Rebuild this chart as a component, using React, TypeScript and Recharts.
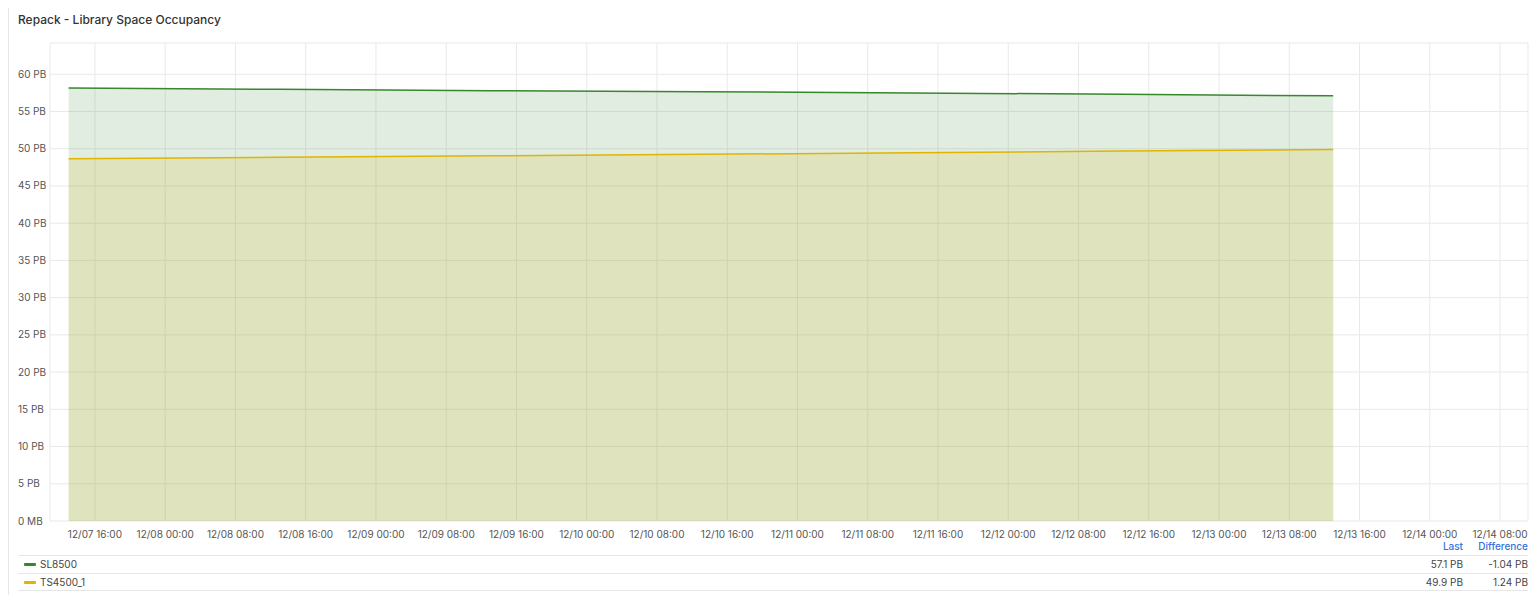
import React from "react";
import { AreaChart, Area, XAxis, YAxis, CartesianGrid } from "recharts";

const H = 3600 * 1000;
const startTs = Date.UTC(2023, 11, 7, 13, 0);
const categories = [0, 24, 48, 72, 96, 120, 144].map((h) => startTs + h * H);
const sl8500 = [58.14, 57.98, 57.8, 57.66, 57.5, 57.3, 57.1];
const ts4500 = [48.66, 48.85, 49.05, 49.25, 49.45, 49.68, 49.9];
const yTicks = [0, 5, 10, 15, 20, 25, 30, 35, 40, 45, 50, 55, 60];
const xTicks = Array.from({ length: 21 }, (_, i) => Date.UTC(2023, 11, 7, 16, 0) + i * 8 * H);
const xDomain = [Date.UTC(2023, 11, 7, 10, 53), Date.UTC(2023, 11, 14, 11, 11)];

const series = [
  { name: "SL8500", color: "#37872D", last: "57.1 PB", diff: "-1.04 PB" },
  { name: "TS4500_1", color: "#E0B400", last: "49.9 PB", diff: "1.24 PB" },
];

const data = categories.map((t, i) => ({ t, SL8500: sl8500[i], TS4500_1: ts4500[i] }));

const pad = (n: number) => (n < 10 ? "0" + n : "" + n);
const fmtX = (v: number) => {
  const d = new Date(v);
  return `${pad(d.getUTCMonth() + 1)}/${pad(d.getUTCDate())} ${pad(d.getUTCHours())}:${pad(d.getUTCMinutes())}`;
};

const FONT = "Inter, 'Noto Sans', sans-serif";

const YTick = (props: any) => {
  const { y, payload } = props;
  const v = payload.value;
  return (
    <text x={18} y={y} dy={3.5} textAnchor="start" fontSize={10} fill="#555" fontFamily={FONT}>
      {v === 0 ? "0 MB" : `${v} PB`}
    </text>
  );
};

export default function App() {
  return (
    <div style={{ position: "absolute", left: 0, top: 0, width: 1534, height: 595, background: "#fff", fontFamily: FONT }}>
      <div style={{ position: "absolute", left: 8, top: 8, width: 1, height: 587, background: "#e6e6e6" }} />
      <div style={{ position: "absolute", left: 18, top: 12, fontSize: 12, fontWeight: 500, color: "#333" }}>
        Repack - Library Space Occupancy
      </div>
      <div style={{ position: "absolute", left: 0, top: 0 }}>
        <AreaChart width={1534} height={541} data={data} margin={{ top: 43, right: 6, left: 0, bottom: 0 }}>
          <CartesianGrid stroke="#e9e9e9" />
          <XAxis
            dataKey="t"
            type="number"
            scale="time"
            domain={xDomain}
            ticks={xTicks}
            tickFormatter={fmtX}
            axisLine={false}
            tickLine={false}
            height={20}
            interval={0}
            tick={{ fontSize: 10, fill: "#555", fontFamily: FONT }}
            tickMargin={4}
          />
          <YAxis
            type="number"
            domain={[0, 64.2]}
            ticks={yTicks}
            width={50}
            axisLine={false}
            tickLine={false}
            tick={<YTick />}
          />
          <Area
            type="linear"
            dataKey="SL8500"
            stroke="#37872D"
            strokeWidth={1.5}
            fill="#37872D"
            fillOpacity={0.15}
            isAnimationActive={false}
            dot={false}
            activeDot={false}
          />
          <Area
            type="linear"
            dataKey="TS4500_1"
            stroke="#E0B400"
            strokeWidth={1.5}
            fill="#E0B400"
            fillOpacity={0.15}
            isAnimationActive={false}
            dot={false}
            activeDot={false}
          />
        </AreaChart>
      </div>
      <div style={{ position: "absolute", left: 1400, top: 540, width: 63, textAlign: "right", fontSize: 10, color: "#3871dc", fontWeight: 500 }}>
        Last
      </div>
      <div style={{ position: "absolute", left: 1463, top: 540, width: 65, textAlign: "right", fontSize: 10, color: "#3871dc", fontWeight: 500 }}>
        Difference
      </div>
      {series.map((s, i) => {
        const top = 555 + i * 18;
        return (
          <div key={s.name} style={{ position: "absolute", left: 18, top, width: 1510, height: 18, borderTop: "1px solid #e6e6e6", borderBottom: i === series.length - 1 ? "1px solid #e6e6e6" : undefined, boxSizing: "border-box" }}>
            <div style={{ position: "absolute", left: 6, top: 7, width: 12, height: 3, borderRadius: 1, background: s.color }} />
            <div style={{ position: "absolute", left: 22, top: 2, fontSize: 10, color: "#444" }}>{s.name}</div>
            <div style={{ position: "absolute", left: 1382, top: 2, width: 63, textAlign: "right", fontSize: 10, color: "#444" }}>{s.last}</div>
            <div style={{ position: "absolute", left: 1445, top: 2, width: 65, textAlign: "right", fontSize: 10, color: "#444" }}>{s.diff}</div>
          </div>
        );
      })}
    </div>
  );
}
